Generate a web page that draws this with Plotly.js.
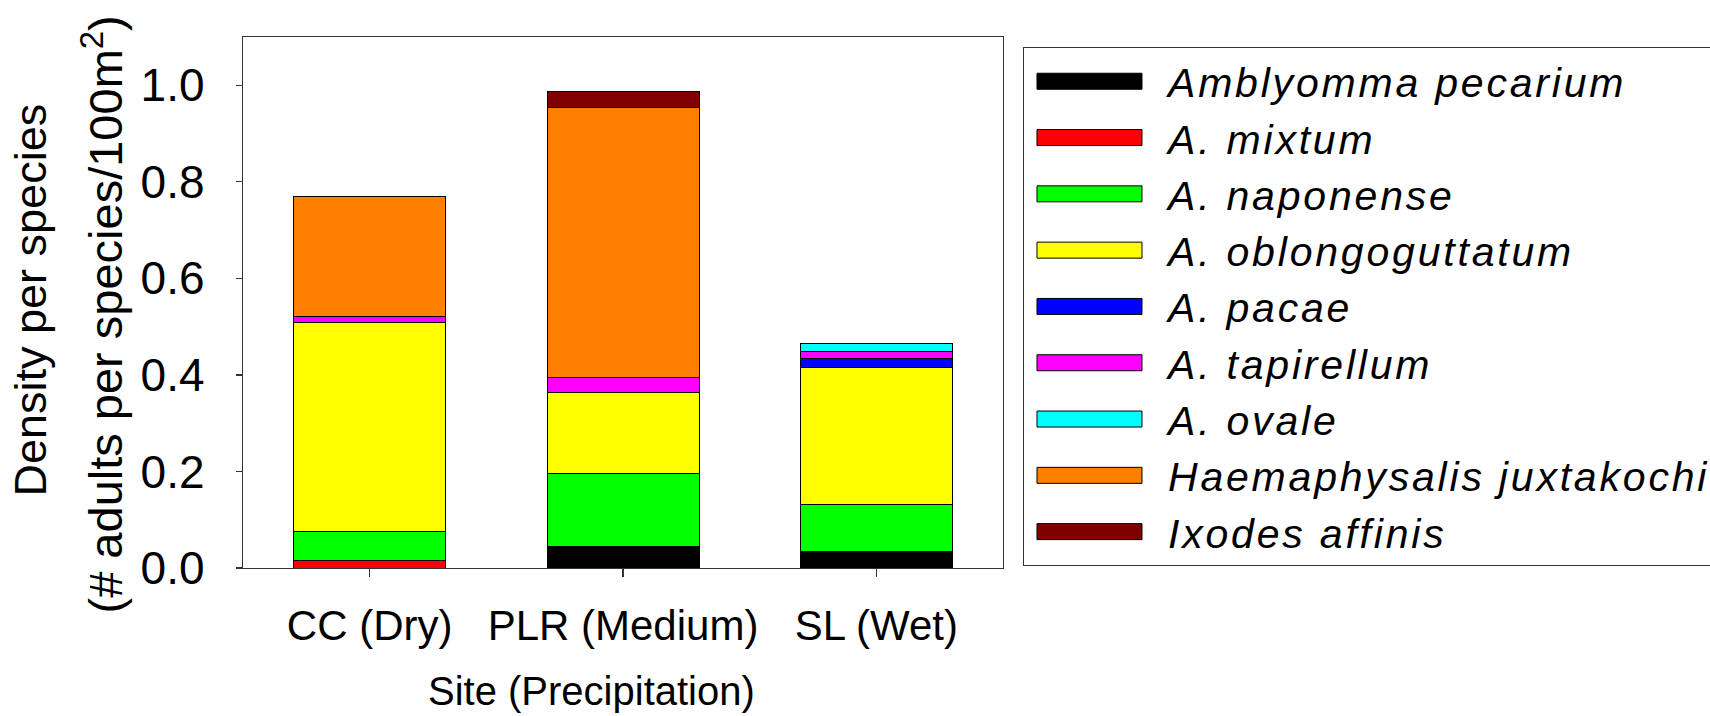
<!DOCTYPE html>
<html>
<head>
<meta charset="utf-8">
<script src="https://cdn.plot.ly/plotly-3.0.1.min.js"></script>
<style>
  html, body { margin: 0; padding: 0; background: #ffffff; }
  #chart { width: 1710px; height: 716px; }
  /* wide flat legend swatches and slightly wide lettering, as in the original figure */
  .legend .legendpoints path { d: path("M-59,8H46V-8H-59Z"); }
  .legendtext { letter-spacing: 2.8px; }
</style>
</head>
<body>
<div id="chart"></div>
<script>
// Categories (sites)
const sites = ["CC (Dry)", "PLR (Medium)", "SL (Wet)"];

// Species names (legend labels)
const speciesNames = [
  "Amblyomma pecarium", "A. mixtum", "A. naponense", "A. oblongoguttatum",
  "A. pacae", "A. tapirellum", "A. ovale", "Haemaphysalis juxtakochi", "Ixodes affinis"
];

// Density per species (# adults per species/100m2), one array per species, ordered by site
const ambPecarium      = [0.000, 0.045, 0.034];
const ambMixtum        = [0.015, 0.000, 0.000];
const ambNaponense     = [0.061, 0.151, 0.098];
const ambOblongo       = [0.432, 0.167, 0.283];
const ambPacae         = [0.000, 0.000, 0.019];
const ambTapirellum    = [0.014, 0.032, 0.015];
const ambOvale         = [0.000, 0.000, 0.017];
const haeJuxtakochi    = [0.248, 0.560, 0.000];
const ixoAffinis       = [0.000, 0.032, 0.000];

const seriesValues = [ambPecarium, ambMixtum, ambNaponense, ambOblongo, ambPacae,
                      ambTapirellum, ambOvale, haeJuxtakochi, ixoAffinis];

const seriesColors = ["#000000", "#ff0000", "#00ff00", "#ffff00", "#0000ff",
                      "#ff00ff", "#00ffff", "#ff8000", "#800000"];

const yTickVals = [0, 0.2, 0.4, 0.6, 0.8, 1.0];
const yTickText = ["0.0", "0.2", "0.4", "0.6", "0.8", "1.0"];

const xTitle = "Site (Precipitation)";
const yTitleLine1 = "Density per species";
const yTitleLine2 = "(# adults per species/100m<sup>2</sup>)";

const FONT = "Liberation Sans, Arial, Helvetica, sans-serif";

const traces = seriesValues.map((vals, i) => ({
  type: "bar",
  name: "<i>" + speciesNames[i] + "</i>",
  x: sites,
  y: vals,
  marker: { color: seriesColors[i], line: { color: "#000000", width: 1 } },
  width: 0.6
}));

const layout = {
  width: 1710,
  height: 716,
  paper_bgcolor: "#ffffff",
  plot_bgcolor: "#ffffff",
  barmode: "stack",
  margin: { l: 243, r: 707, t: 37, b: 148, autoexpand: false },
  font: { family: FONT, color: "#000000" },
  showlegend: true,
  legend: {
    x: 1.0263, xanchor: "left",
    y: 0.981, yanchor: "top",
    bordercolor: "#333333", borderwidth: 1,
    bgcolor: "#ffffff",
    itemwidth: 134,
    traceorder: "normal",
    font: { family: FONT, size: 41, color: "#000000" },
    itemclick: false, itemdoubleclick: false
  },
  xaxis: {
    type: "category",
    range: [-0.5, 2.5],
    showline: true, mirror: true, linecolor: "#333333", linewidth: 1.3,
    ticks: "outside", ticklen: 8, tickwidth: 1.3, tickcolor: "#333333",
    ticklabelstandoff: 12,
    tickfont: { family: FONT, size: 42, color: "#000000" },
    showgrid: false, zeroline: false,
    automargin: false
  },
  yaxis: {
    range: [0, 1.1],
    tickvals: yTickVals, ticktext: yTickText,
    showline: true, mirror: true, linecolor: "#333333", linewidth: 1.3,
    ticks: "outside", ticklen: 6, tickwidth: 1.3, tickcolor: "#333333",
    ticklabelstandoff: 22,
    tickfont: { family: FONT, size: 46, color: "#000000" },
    showgrid: false, zeroline: false,
    automargin: false
  },
  annotations: [
    {
      text: xTitle,
      xref: "paper", yref: "paper", x: 0.5, y: 0,
      xanchor: "center", yanchor: "middle",
      xshift: -32, yshift: -123,
      showarrow: false,
      font: { family: FONT, size: 40, color: "#000000" }
    },
    {
      text: yTitleLine1,
      xref: "paper", yref: "paper", x: 0, y: 0.5,
      xanchor: "center", yanchor: "middle",
      xshift: -213, yshift: 2,
      textangle: -90, showarrow: false,
      font: { family: FONT, size: 45, color: "#000000" }
    },
    {
      text: yTitleLine2,
      xref: "paper", yref: "paper", x: 0, y: 0.5,
      xanchor: "center", yanchor: "middle",
      xshift: -141, yshift: -12,
      textangle: -90, showarrow: false,
      font: { family: FONT, size: 47, color: "#000000" }
    }
  ]
};

Plotly.newPlot("chart", traces, layout, { displayModeBar: false, staticPlot: true });
</script>
</body>
</html>
